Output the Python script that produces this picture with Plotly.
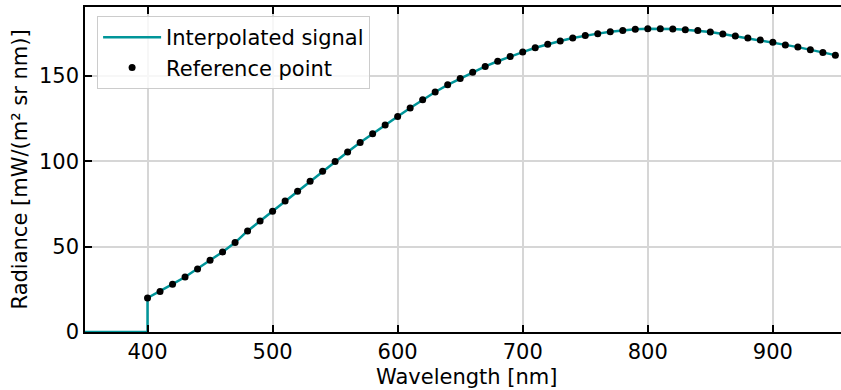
import plotly.graph_objects as go

# ---- data ----
wavelength_ref = [400, 410, 420, 430, 440, 450, 460, 470, 480, 490,
                  500, 510, 520, 530, 540, 550, 560, 570, 580, 590,
                  600, 610, 620, 630, 640, 650, 660, 670, 680, 690,
                  700, 710, 720, 730, 740, 750, 760, 770, 780, 790,
                  800, 810, 820, 830, 840, 850, 860, 870, 880, 890,
                  900, 910, 920, 930, 940, 950]
radiance_ref = [19.9, 23.8, 28.0, 32.2, 36.9, 42.0, 46.9, 52.4, 59.2, 65.0,
                70.8, 76.7, 82.5, 88.3, 94.2, 99.9, 105.5, 111.0, 116.2, 121.3,
                126.3, 131.2, 136.1, 140.6, 144.8, 148.5, 152.2, 155.6, 158.6, 161.4,
                164.0, 166.5, 168.6, 170.5, 172.2, 173.7, 174.8, 175.9, 176.7, 177.3,
                177.6, 177.7, 177.5, 177.1, 176.6, 175.7, 174.6, 173.4, 172.2, 171.0,
                169.7, 168.2, 166.9, 165.4, 163.8, 162.2]
# signal is zero below the first reference wavelength
signal_start = [350, 400]
signal_start_val = [0.0, 0.0]

x_ticks = [400, 500, 600, 700, 800, 900]
y_ticks = [0, 50, 100, 150]

signal_x = signal_start + wavelength_ref
signal_y = signal_start_val + radiance_ref

FONT = "DejaVu Sans"
TEAL = "#009599"

fig = go.Figure()
fig.add_trace(go.Scatter(
    x=signal_x, y=signal_y, mode="lines",
    line=dict(color=TEAL, width=2.5),
    name="Interpolated signal",
))
fig.add_trace(go.Scatter(
    x=wavelength_ref, y=radiance_ref, mode="markers",
    marker=dict(color="black", size=7),
    name="Reference point",
))

axis_common = dict(
    showline=True, linecolor="black", linewidth=1.5,
    ticks="inside", ticklen=7, tickwidth=1.5, tickcolor="black",
    showgrid=True, gridcolor="#d6d6d6", gridwidth=1.5,
    zeroline=False,
    tickfont=dict(family=FONT, size=21, color="black"),
)

fig.update_xaxes(range=[350, 954.5], tickvals=x_ticks, mirror="ticks", **axis_common)
fig.update_yaxes(range=[0, 190.4], tickvals=y_ticks, mirror=False, **axis_common)

fig.update_layout(
    width=841, height=390,
    margin=dict(l=85, r=0, t=7, b=58),
    plot_bgcolor="white", paper_bgcolor="white",
    font=dict(family=FONT, size=21, color="black"),
    showlegend=True,
    legend=dict(
        x=0.016, y=0.972, xanchor="left", yanchor="top",
        bgcolor="rgba(255,255,255,0.8)", bordercolor="#cccccc", borderwidth=1,
        font=dict(family=FONT, size=21, color="black"),
        itemwidth=58,
    ),
    annotations=[
        dict(text="Wavelength [nm]", xref="paper", yref="paper",
             x=0.505, y=-0.138, xanchor="center", yanchor="middle",
             showarrow=False, font=dict(family=FONT, size=21, color="black")),
        dict(text="Radiance [mW/(m² sr nm)]", xref="paper", yref="paper",
             x=-0.086, y=0.5, xanchor="center", yanchor="middle", textangle=-90,
             showarrow=False, font=dict(family=FONT, size=21, color="black")),
    ],
)

fig.write_html("out.html")
